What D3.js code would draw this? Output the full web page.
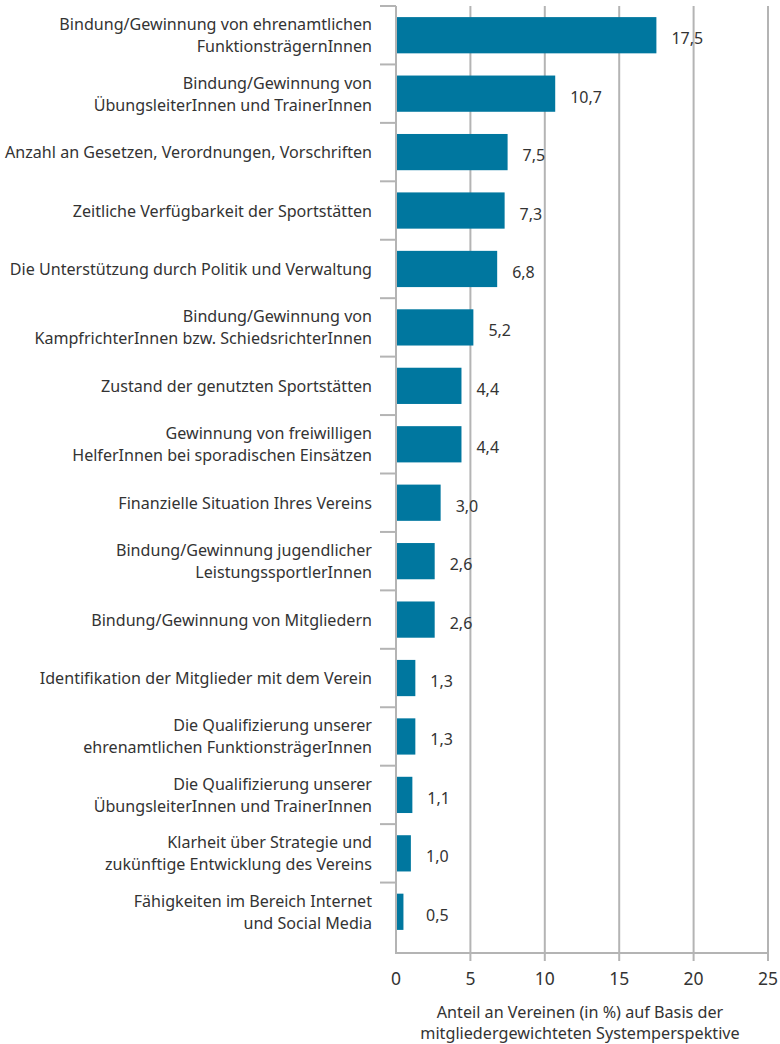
<!DOCTYPE html>
<html>
<head>
<meta charset="utf-8">
<script src="https://cdn.jsdelivr.net/npm/d3@7"></script>
<style>
  body { margin: 0; background: #fff; }
  text { font-family: "Noto Sans", sans-serif; fill: #333; }
</style>
</head>
<body>
<div class="chart"></div>
<script>
// Chart data
var categories = [
  "Bindung/Gewinnung von ehrenamtlichen\nFunktionsträgernInnen",
  "Bindung/Gewinnung von\nÜbungsleiterInnen und TrainerInnen",
  "Anzahl an Gesetzen, Verordnungen, Vorschriften",
  "Zeitliche Verfügbarkeit der Sportstätten",
  "Die Unterstützung durch Politik und Verwaltung",
  "Bindung/Gewinnung von\nKampfrichterInnen bzw. SchiedsrichterInnen",
  "Zustand der genutzten Sportstätten",
  "Gewinnung von freiwilligen\nHelferInnen bei sporadischen Einsätzen",
  "Finanzielle Situation Ihres Vereins",
  "Bindung/Gewinnung jugendlicher\nLeistungssportlerInnen",
  "Bindung/Gewinnung von Mitgliedern",
  "Identifikation der Mitglieder mit dem Verein",
  "Die Qualifizierung unserer\nehrenamtlichen FunktionsträgerInnen",
  "Die Qualifizierung unserer\nÜbungsleiterInnen und TrainerInnen",
  "Klarheit über Strategie und\nzukünftige Entwicklung des Vereins",
  "Fähigkeiten im Bereich Internet\nund Social Media"
];
var values = [17.5, 10.7, 7.5, 7.3, 6.8, 5.2, 4.4, 4.4, 3.0, 2.6, 2.6, 1.3, 1.3, 1.1, 1.0, 0.5];
var xTicks = [0, 5, 10, 15, 20, 25];
var axisTitle = ["Anteil an Vereinen (in %) auf Basis der", "mitgliedergewichteten Systemperspektive"];

var svgWidth = 780;
var svgHeight = 1044;

var margin = { top: 6, right: 12, bottom: 91, left: 396 };
var width = svgWidth - margin.left - margin.right;
var height = svgHeight - margin.top - margin.bottom;

var barColor = "#00779f";
var gridColor = "#b4b4b4";

var svg = d3.select(".chart")
  .append("svg")
  .attr("width", svgWidth)
  .attr("height", svgHeight);

var chartGroup = svg.append("g")
  .attr("transform", `translate(${margin.left}, ${margin.top})`);

var data = categories.map(function(c, i) { return { cat: c, value: values[i] }; });

// Scales
var xScale = d3.scaleLinear()
  .domain([0, 25])
  .range([0, width]);

var yScale = d3.scaleBand()
  .domain(categories)
  .range([0, height - 12])
  .paddingInner(0.38)
  .paddingOuter(0.19);

// Vertical gridlines (with ticks below axis)
chartGroup.selectAll(".grid")
  .data(xTicks.slice(1))
  .enter()
  .append("line")
  .attr("x1", d => xScale(d))
  .attr("x2", d => xScale(d))
  .attr("y1", 0)
  .attr("y2", height + 8)
  .attr("stroke", gridColor)
  .attr("stroke-width", 2);

// Bars
chartGroup.selectAll("rect")
  .data(data)
  .enter()
  .append("rect")
  .attr("x", 1)
  .attr("y", d => yScale(d.cat))
  .attr("width", d => xScale(d.value) - 1)
  .attr("height", yScale.bandwidth())
  .attr("fill", barColor);

// Value labels (never closer than 30px to the axis)
chartGroup.selectAll(".value")
  .data(data)
  .enter()
  .append("text")
  .attr("class", "value")
  .attr("x", d => Math.max(xScale(d.value) + 15, 30))
  .attr("y", d => yScale(d.cat) + yScale.bandwidth() / 2 + 3)
  .attr("dominant-baseline", "central")
  .attr("font-size", "16px")
  .text(d => d.value.toFixed(1).replace(".", ","));

// Category separators
chartGroup.selectAll(".sep")
  .data(categories)
  .enter()
  .append("line")
  .attr("x1", -16)
  .attr("x2", 0)
  .attr("y1", d => yScale(d) + yScale.bandwidth() / 2 - yScale.step() / 2)
  .attr("y2", d => yScale(d) + yScale.bandwidth() / 2 - yScale.step() / 2)
  .attr("stroke", gridColor)
  .attr("stroke-width", 2);

// Axes lines
chartGroup.append("line")
  .attr("x1", 0).attr("x2", 0)
  .attr("y1", 0).attr("y2", height + 1)
  .attr("stroke", gridColor)
  .attr("stroke-width", 2);

chartGroup.append("line")
  .attr("x1", 0).attr("x2", width + 1)
  .attr("y1", height).attr("y2", height)
  .attr("stroke", gridColor)
  .attr("stroke-width", 2);

// Category labels
var catLabels = chartGroup.selectAll(".cat")
  .data(categories)
  .enter()
  .append("text")
  .attr("class", "cat")
  .attr("text-anchor", "end")
  .attr("font-size", "16.1px")
  .attr("transform", d => `translate(-24, ${yScale(d) + yScale.bandwidth() / 2})`);

catLabels.each(function(d) {
  var lines = d.split("\n");
  var lineHeight = 22;
  var start = -(lines.length - 1) * lineHeight / 2;
  d3.select(this).selectAll("tspan")
    .data(lines)
    .enter()
    .append("tspan")
    .attr("x", 0)
    .attr("y", (l, i) => start + i * lineHeight)
    .attr("dominant-baseline", "central")
    .text(l => l);
});

// X tick labels
chartGroup.selectAll(".xtick")
  .data(xTicks)
  .enter()
  .append("text")
  .attr("class", "xtick")
  .attr("x", d => xScale(d))
  .attr("y", height + 25)
  .attr("text-anchor", "middle")
  .attr("dominant-baseline", "central")
  .attr("font-size", "17.5px")
  .text(d => d);

// Axis title
chartGroup.selectAll(".axisText")
  .data(axisTitle)
  .enter()
  .append("text")
  .attr("class", "axisText")
  .attr("x", 184)
  .attr("y", (d, i) => height + 59 + i * 21)
  .attr("text-anchor", "middle")
  .attr("dominant-baseline", "central")
  .attr("font-size", "16.2px")
  .text(d => d);
</script>
</body>
</html>
